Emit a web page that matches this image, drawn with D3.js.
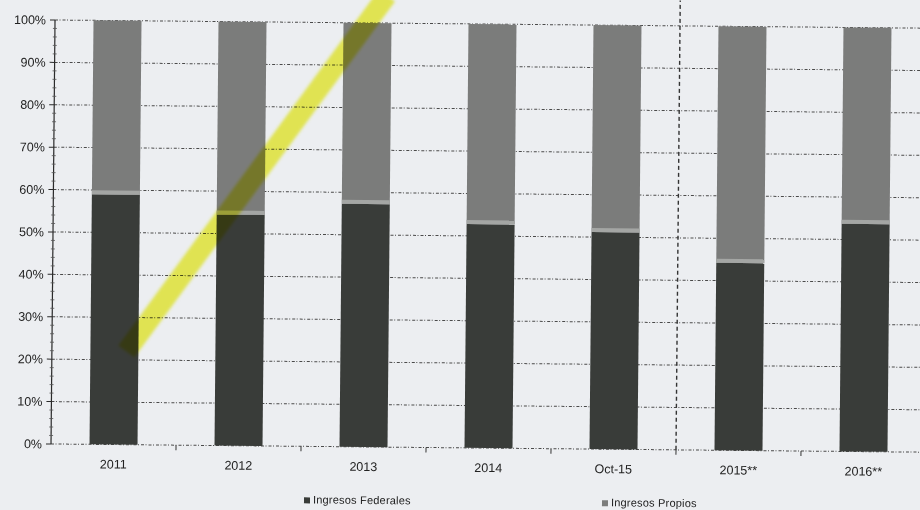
<!DOCTYPE html>
<html>
<head>
<meta charset="utf-8">
<script src="https://cdn.jsdelivr.net/npm/d3@7/dist/d3.min.js"></script>
<style>
  html, body { margin: 0; padding: 0; background: #eceef1; }
  svg { display: block; }
  text { font-family: "Liberation Sans", Arial, sans-serif; fill: #222; }
</style>
</head>
<body>
<svg id="chart" width="920" height="510"></svg>
<script>
// ---- data ----
const categories = ["2011", "2012", "2013", "2014", "Oct-15", "2015**", "2016**"];
const federales  = [59, 54.5, 57.3, 52.8, 51.2, 44.2, 53.7];
const propios    = [41, 45.5, 42.7, 47.2, 48.8, 55.8, 46.3];
const yTicks     = [0, 10, 20, 30, 40, 50, 60, 70, 80, 90, 100];
const seriesNames = ["Ingresos Federales", "Ingresos Propios"];
// highlighter annotation (category, offset within band, value)
const highlight = [["2011", 0.75, 22], ["2013", 0.9, 106.5]];
const dividerAfter = "Oct-15";

// ---- layout ----
const mLeft = 53, mRight = 928, mTop = 24, mBottom = 448;
const colFed = "#393c39", colProp = "#7b7c7b", colSep = "#a4a6a4";

const svg = d3.select("#chart");
const defs = svg.append("defs");
defs.append("filter").attr("id", "soft").attr("x", "-20%").attr("y", "-20%")
  .attr("width", "140%").attr("height", "140%")
  .append("feGaussianBlur").attr("stdDeviation", 1.6);

const g = svg.append("g").attr("transform", "rotate(0.54, 480, 236)");

const x = d3.scaleBand().domain(categories).range([mLeft, mRight])
  .paddingInner(0.616).paddingOuter(0.308);
const y = d3.scaleLinear().domain([0, 100]).range([mBottom, mTop]);

// gridlines
g.append("g").selectAll("line").data(yTicks).join("line")
  .attr("x1", mLeft).attr("x2", mRight + 20)
  .attr("y1", d => y(d)).attr("y2", d => y(d))
  .attr("stroke", "#4a4a4a").attr("stroke-width", 1)
  .attr("stroke-dasharray", "3,1.5,1,2");

// vertical divider
const step = x.step();
const gap = step - x.bandwidth();
const divX = x(dividerAfter) + x.bandwidth() + gap / 2;
g.append("line")
  .attr("x1", divX).attr("x2", divX)
  .attr("y1", y(0)).attr("y2", y(106))
  .attr("stroke", "#333").attr("stroke-width", 1.4)
  .attr("stroke-dasharray", "4,3");

// stacked bars
const rows = categories.map((c, i) => ({ c, f: federales[i], p: propios[i] }));
const bars = g.append("g");
bars.selectAll("rect.fed").data(rows).join("rect").attr("class", "fed")
  .attr("x", d => x(d.c)).attr("width", x.bandwidth())
  .attr("y", d => y(d.f)).attr("height", d => y(0) - y(d.f))
  .attr("fill", colFed);
bars.selectAll("rect.prop").data(rows).join("rect").attr("class", "prop")
  .attr("x", d => x(d.c)).attr("width", x.bandwidth())
  .attr("y", d => y(d.f + d.p)).attr("height", d => y(d.f) - y(d.f + d.p))
  .attr("fill", colProp);
bars.selectAll("rect.sep").data(rows).join("rect").attr("class", "sep")
  .attr("x", d => x(d.c)).attr("width", x.bandwidth())
  .attr("y", d => y(d.f) - 4).attr("height", 4)
  .attr("fill", colSep);

// y axis
const yAxis = g.append("g");
yAxis.append("line").attr("x1", mLeft).attr("x2", mLeft)
  .attr("y1", y(0)).attr("y2", y(100)).attr("stroke", "#2a2a2a").attr("stroke-width", 1.2);
yAxis.selectAll("line.major").data(yTicks).join("line").attr("class", "major")
  .attr("x1", mLeft - 5).attr("x2", mLeft).attr("y1", d => y(d)).attr("y2", d => y(d))
  .attr("stroke", "#2a2a2a");
yAxis.selectAll("line.minor").data(d3.range(0, 100, 2).filter(v => v % 10 !== 0)).join("line").attr("class", "minor")
  .attr("x1", mLeft - 2).attr("x2", mLeft + 2).attr("y1", d => y(d)).attr("y2", d => y(d))
  .attr("stroke", "#555").attr("stroke-width", 0.8);
yAxis.selectAll("text").data(yTicks).join("text")
  .attr("x", mLeft - 9).attr("y", d => y(d)).attr("dy", "0.35em")
  .attr("text-anchor", "end").attr("font-size", 12.5)
  .text(d => d + "%");

// x axis ticks + labels
const xAxis = g.append("g");
xAxis.selectAll("line").data(categories.slice(1)).join("line")
  .attr("x1", d => x(d) - gap / 2)
  .attr("x2", d => x(d) - gap / 2)
  .attr("y1", y(0)).attr("y2", y(0) + 5)
  .attr("stroke", "#333");
xAxis.selectAll("text").data(categories).join("text")
  .attr("x", d => x(d) + x.bandwidth() / 2).attr("y", y(0) + 24)
  .attr("text-anchor", "middle").attr("font-size", 12.5)
  .text(d => d);

// highlighter stroke
const hp = highlight.map(([c, o, v]) => [x(c) + o * x.bandwidth(), y(v)]);
g.append("line")
  .attr("x1", hp[0][0]).attr("y1", hp[0][1]).attr("x2", hp[1][0]).attr("y2", hp[1][1])
  .attr("stroke", "#f0f238").attr("stroke-width", 20).attr("stroke-opacity", 0.85)
  .attr("filter", "url(#soft)")
  .style("mix-blend-mode", "multiply");

// legend
const legX = [x("2013") - 35, x("Oct-15") + 13];
const leg = g.append("g");
seriesNames.forEach((name, i) => {
  leg.append("rect").attr("x", legX[i]).attr("y", y(0) + 51).attr("width", 6).attr("height", 6)
    .attr("fill", i === 0 ? colFed : colProp);
  leg.append("text").attr("x", legX[i] + 9).attr("y", y(0) + 57)
    .attr("font-size", 11).attr("letter-spacing", 0.2).text(name);
});
</script>
</body>
</html>
